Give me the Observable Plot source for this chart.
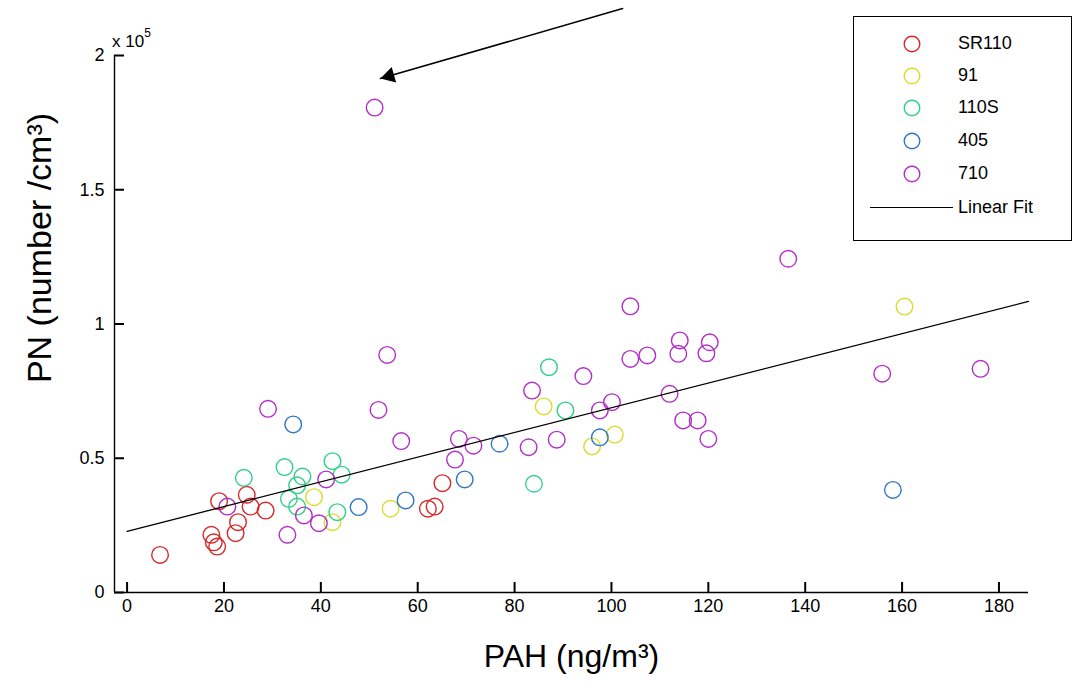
<!DOCTYPE html>
<html><head><meta charset="utf-8">
<script src="https://cdn.jsdelivr.net/npm/d3@7"></script>
<script src="https://cdn.jsdelivr.net/npm/@observablehq/plot@0.6"></script>
<style>
body{margin:0;background:#fff;}
#wrap{position:relative;width:1078px;height:688px;font-family:"Liberation Sans",Arial,sans-serif;color:#000;}
#wrap > svg{position:absolute;left:0;top:0;}
.ov{position:absolute;white-space:nowrap;}
#legend{position:absolute;left:853px;top:16px;width:219px;height:225px;border:1.4px solid #000;background:#fff;box-sizing:border-box;}
#legend .lrow{position:absolute;left:0;width:100%;height:0;}
#legend .lrow svg{position:absolute;left:47px;top:-10px;}
#legend .lrow span{position:absolute;left:104px;top:-12px;font-size:18px;line-height:22px;}
</style></head><body><div id="wrap"></div>
<script>
// ---- data (PAH in ng/m3, PN in number/cm3) ----
const seriesNames = ["SR110", "91", "110S", "405", "710"];
const seriesColors = ["#d42a2a", "#d6de2c", "#2ed08a", "#2f78c4", "#b22ec6"];

const sr110X = [6.8, 17.4, 17.9, 18.6, 19.0, 22.4, 22.9, 24.7, 25.5, 28.6, 62.1, 63.5, 65.1];
const sr110Y = [14000, 21500, 18700, 17100, 34000, 22100, 26200, 36400, 32000, 30500, 31200, 32000, 40700];

const r91X = [38.6, 42.4, 54.4, 86.0, 96.0, 100.7, 160.5];
const r91Y = [35500, 26200, 31200, 69300, 54400, 58800, 106500];

const r110sX = [24.1, 32.5, 36.2, 35.1, 33.4, 35.1, 42.4, 44.3, 43.4, 87.1, 90.5, 84.0];
const r110sY = [42700, 46700, 43200, 39900, 34900, 32000, 48900, 43900, 29900, 83900, 67800, 40500];

const r405X = [34.3, 47.8, 57.5, 69.7, 76.9, 97.6, 158.1];
const r405Y = [62600, 31800, 34300, 42100, 55400, 57800, 38200];

const r710X = [51.1, 136.5, 103.9, 53.7, 114.1, 113.8, 120.3, 119.6, 103.9, 107.4, 94.2, 83.6,
               97.6, 100.1, 112.0, 114.8, 117.8, 120.0, 82.9, 88.7, 51.9, 56.6, 68.5, 71.5,
               67.7, 29.1, 20.7, 41.1, 36.5, 39.6, 33.1, 155.9, 176.2];
const r710Y = [180600, 124300, 106600, 88500, 93900, 88900, 93200, 89100, 87000, 88300, 80600, 75200,
               67800, 70900, 74000, 64100, 64100, 57200, 54100, 56900, 68000, 56400, 57200, 54700,
               49500, 68400, 32000, 42100, 28700, 25800, 21500, 81500, 83300];

const fitX = [0, 186.1];
const fitY = [22800, 108400];

const arrowStart = [102.3, 217500];
const arrowEnd = [52.3, 191400];

const xTicks = [0, 20, 40, 60, 80, 100, 120, 140, 160, 180];
const yTicks = [0, 50000, 100000, 150000, 200000];
const yTickLabels = ["0", "0.5", "1", "1.5", "2"];
const xDomain = [-2.6, 186.1];
const yDomain = [0, 200000];

// ---- build table ----
const xs = [sr110X, r91X, r110sX, r405X, r710X];
const ys = [sr110Y, r91Y, r110sY, r405Y, r710Y];
const points = seriesNames.flatMap((s, k) => xs[k].map((x, i) => ({series: s, x, y: ys[k][i]})));
const fit = fitX.map((x, i) => ({x, y: fitY[i]}));
const arrow = [{x1: arrowStart[0], y1: arrowStart[1], x2: arrowEnd[0], y2: arrowEnd[1]}];

const tickPx = 10;
const font = "Liberation Sans, Arial, sans-serif";
const chart = Plot.plot({
  width: 1078, height: 688,
  marginLeft: 114, marginRight: 50, marginTop: 55, marginBottom: 96,
  style: {fontFamily: font, background: "transparent", color: "black"},
  x: {domain: xDomain},
  y: {domain: yDomain},
  color: {domain: seriesNames, range: seriesColors},
  marks: [
    Plot.ruleY([yDomain[0]], {stroke: "black", strokeWidth: 1.4}),
    Plot.ruleX([xDomain[0]], {stroke: "black", strokeWidth: 1.4}),
    // inward ticks
    Plot.axisX(xTicks, {tickSize: tickPx, dy: -tickPx, stroke: "black", strokeWidth: 2, tickFormat: () => "", label: null}),
    Plot.axisY(yTicks, {tickSize: tickPx, dx: tickPx, stroke: "black", strokeWidth: 2, tickFormat: () => "", label: null}),
    // tick labels
    Plot.axisX(xTicks, {tickSize: 0, tickPadding: 7, fontSize: 18, label: null}),
    Plot.axisY(yTicks, {tickSize: 0, tickPadding: 10, fontSize: 18, label: null,
      tickFormat: d => yTickLabels[yTicks.indexOf(d)]}),
    Plot.dot(points, {x: "x", y: "y", stroke: "series", r: 8.3, strokeWidth: 1.4}),
    Plot.line(fit, {x: "x", y: "y", stroke: "black", strokeWidth: 1.3}),
    Plot.arrow(arrow, {x1: "x1", y1: "y1", x2: "x2", y2: "y2", stroke: "black", strokeWidth: 1.5, headLength: 0}),
    Plot.dot(arrow, {x: "x2", y: "y2", symbol: "triangle", r: 6, fill: "black", stroke: "none", rotate: 254, dx: 9, dy: -2.6}),
    Plot.text(["PAH (ng/m³)"], {frameAnchor: "bottom", dy: 64, fontSize: 32, textAnchor: "middle", lineAnchor: "middle", fill: "black"}),
    Plot.text(["PN (number /cm³)"], {frameAnchor: "left", dx: -74, dy: -76, rotate: -90, fontSize: 34, textAnchor: "middle", lineAnchor: "middle", fill: "black"})
  ]
});

const wrap = document.getElementById("wrap");
wrap.appendChild(chart);

// multiplier label
const mult = document.createElement("div");
mult.className = "ov";
mult.style.cssText = "left:112px;top:29px;font-size:17px;";
mult.innerHTML = 'x 10<sup style="font-size:12px;position:relative;top:-3px;">5</sup>';
wrap.appendChild(mult);

// legend
const legend = document.createElement("div");
legend.id = "legend";
const rowY = [27, 59, 91, 124, 157, 191];
seriesNames.forEach((s, i) => {
  const row = document.createElement("div");
  row.className = "lrow";
  row.style.top = rowY[i] + "px";
  row.innerHTML = `<svg width="22" height="20"><circle cx="11" cy="10" r="7.8" fill="none" stroke="${seriesColors[i]}" stroke-width="1.4"/></svg><span>${s}</span>`;
  legend.appendChild(row);
});
const fitRow = document.createElement("div");
fitRow.className = "lrow";
fitRow.style.top = rowY[5] + "px";
fitRow.innerHTML = `<div style="position:absolute;left:16px;top:-1px;width:83px;height:0;border-top:1.4px solid #000;"></div><span>Linear Fit</span>`;
legend.appendChild(fitRow);
wrap.appendChild(legend);
</script>
</body></html>
